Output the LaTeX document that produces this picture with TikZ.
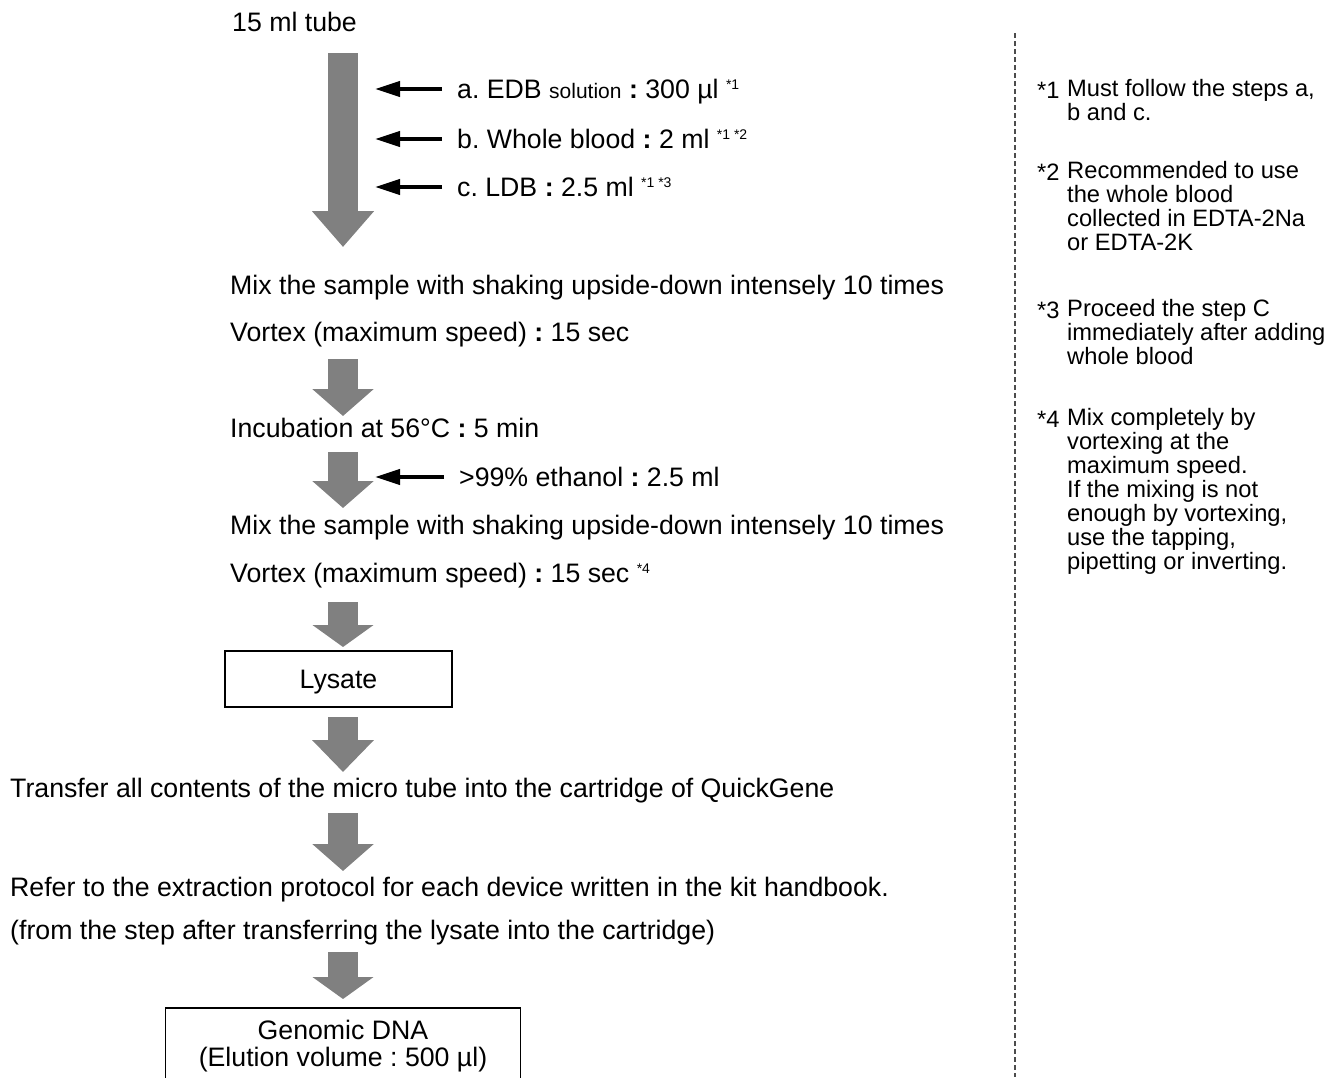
\documentclass[tikz,border=0pt]{standalone}
\usepackage{fontspec}
\setmainfont{Liberation Sans}
\usetikzlibrary{arrows.meta}
\definecolor{flowgray}{RGB}{128,128,128}
\newcommand\bcolon{\textbf{:}}
\newcommand\refmark[1]{\raisebox{9pt}{\fontsize{14}{14}\selectfont #1}}
\frenchspacing

\begin{document}
\begin{tikzpicture}[x=1pt,y=-1pt,
  txt/.style={inner sep=0pt, text height=22pt, text depth=2.8pt, font=\fontsize{26.7}{27}\selectfont},
  stepbox/.style={draw, line width=1.5pt, inner sep=0pt},
  note/.style={inner sep=0pt, align=left, font=\fontsize{23.7}{24}\selectfont},
  flow/.style={draw=flowgray, line width=30pt, -{Triangle[length=#1,width=60pt]}},
  flow/.default=27pt,
  addarrow/.style={line width=4pt, -{Triangle[length=25pt,width=15pt]}},
  divider/.style={draw=black!70, line width=1.5pt, dash pattern=on 5pt off 3pt}]
\useasboundingbox (0,0) rectangle (1343,1077);

\node[txt, anchor=west] (tube) at (232,22) {15 ml tube};
\node[txt, anchor=west] (adda) at (457,89) {a. EDB {\fontsize{21}{21}\selectfont solution} \bcolon{} 300 µl \refmark{*1}};
\node[txt, anchor=west] (addb) at (457,139) {b. Whole blood \bcolon{} 2 ml \refmark{*1 *2}};
\node[txt, anchor=west] (addc) at (457,187) {c. LDB \bcolon{} 2.5 ml \refmark{*1 *3}};
\node[txt, anchor=west] (mixa) at (230,285) {Mix the sample with shaking upside-down intensely 10 times};
\node[txt, anchor=west] (vortexa) at (230,332) {Vortex (maximum speed) \bcolon{} 15 sec};
\node[txt, anchor=west] (incub) at (230,428) {Incubation at 56°C \bcolon{} 5 min};
\node[txt, anchor=west] (ethanol) at (459,477) {>99\% ethanol \bcolon{} 2.5 ml};
\node[txt, anchor=west] (mixb) at (230,525) {Mix the sample with shaking upside-down intensely 10 times};
\node[txt, anchor=west] (vortexb) at (230,573) {Vortex (maximum speed) \bcolon{} 15 sec \refmark{*4}};
\node[txt, stepbox, minimum width=227pt, minimum height=56pt] (lysate) at (338.5,679) {Lysate};
\node[txt, anchor=west] (transfer) at (10,788) {Transfer all contents of the micro tube into the cartridge of QuickGene};
\node[txt, anchor=west] (refer) at (10,887) {Refer to the extraction protocol for each device written in the kit handbook.};
\node[txt, anchor=west] (from) at (10,930) {(from the step after transferring the lysate into the cartridge)};
\node[stepbox, minimum width=355pt, minimum height=76pt, anchor=north] (gdnabox) at (343,1007) {};
\node[txt] (gdna) at (343,1030) {Genomic DNA};
\node[txt] (elution) at (343,1057) {(Elution volume : 500 µl)};

\coordinate (a0s) at (343,53);  \coordinate (a0e) at (343,247);
\coordinate (a1s) at (343,359); \coordinate (a1e) at (343,416);
\coordinate (a2s) at (343,452); \coordinate (a2e) at (343,508);
\coordinate (a3s) at (343,602); \coordinate (a3e) at (343,647);
\coordinate (a4s) at (343,717); \coordinate (a4e) at (343,772);
\coordinate (a5s) at (343,813); \coordinate (a5e) at (343,871);
\coordinate (a6s) at (343,952); \coordinate (a6e) at (343,999);
\draw[flow=36pt] (a0s) -- (a0e);
\draw[flow] (a1s) -- (a1e);
\draw[flow] (a2s) -- (a2e);
\draw[flow=22pt] (a3s) -- (a3e);
\draw[flow=32pt] (a4s) -- (a4e);
\draw[flow] (a5s) -- (a5e);
\draw[flow=22pt] (a6s) -- (a6e);

\coordinate (tubeedge) at (375,0);
\draw[addarrow] ([xshift=-15pt]adda.west) -- (adda.west -| tubeedge);
\draw[addarrow] ([xshift=-15pt]addb.west) -- (addb.west -| tubeedge);
\draw[addarrow] ([xshift=-15pt]addc.west) -- (addc.west -| tubeedge);
\draw[addarrow] ([xshift=-15pt]ethanol.west) -- (ethanol.west -| tubeedge);

\coordinate (divtop) at (1015,33);
\coordinate (divbot) at (1015,1077);
\draw[divider] (divtop) -- (divbot);

\node[note, anchor=west] (m1) at (1037,90) {*1};
\node[note, anchor=north west] (n1) at (1067,79.5) {Must follow the steps a,\\b and c.};
\node[note, anchor=west] (m2) at (1037,172) {*2};
\node[note, anchor=north west] (n2) at (1067,161.5) {Recommended to use\\the whole blood\\collected in EDTA-2Na\\or EDTA-2K};
\node[note, anchor=west] (m3) at (1037,310) {*3};
\node[note, anchor=north west] (n3) at (1067,299.5) {Proceed the step C\\immediately after adding\\whole blood};
\node[note, anchor=west] (m4) at (1037,419) {*4};
\node[note, anchor=north west] (n4) at (1067,408.5) {Mix completely by\\vortexing at the\\maximum speed.\\If the mixing is not\\enough by vortexing,\\use the tapping,\\pipetting or inverting.};
\end{tikzpicture}
\end{document}
